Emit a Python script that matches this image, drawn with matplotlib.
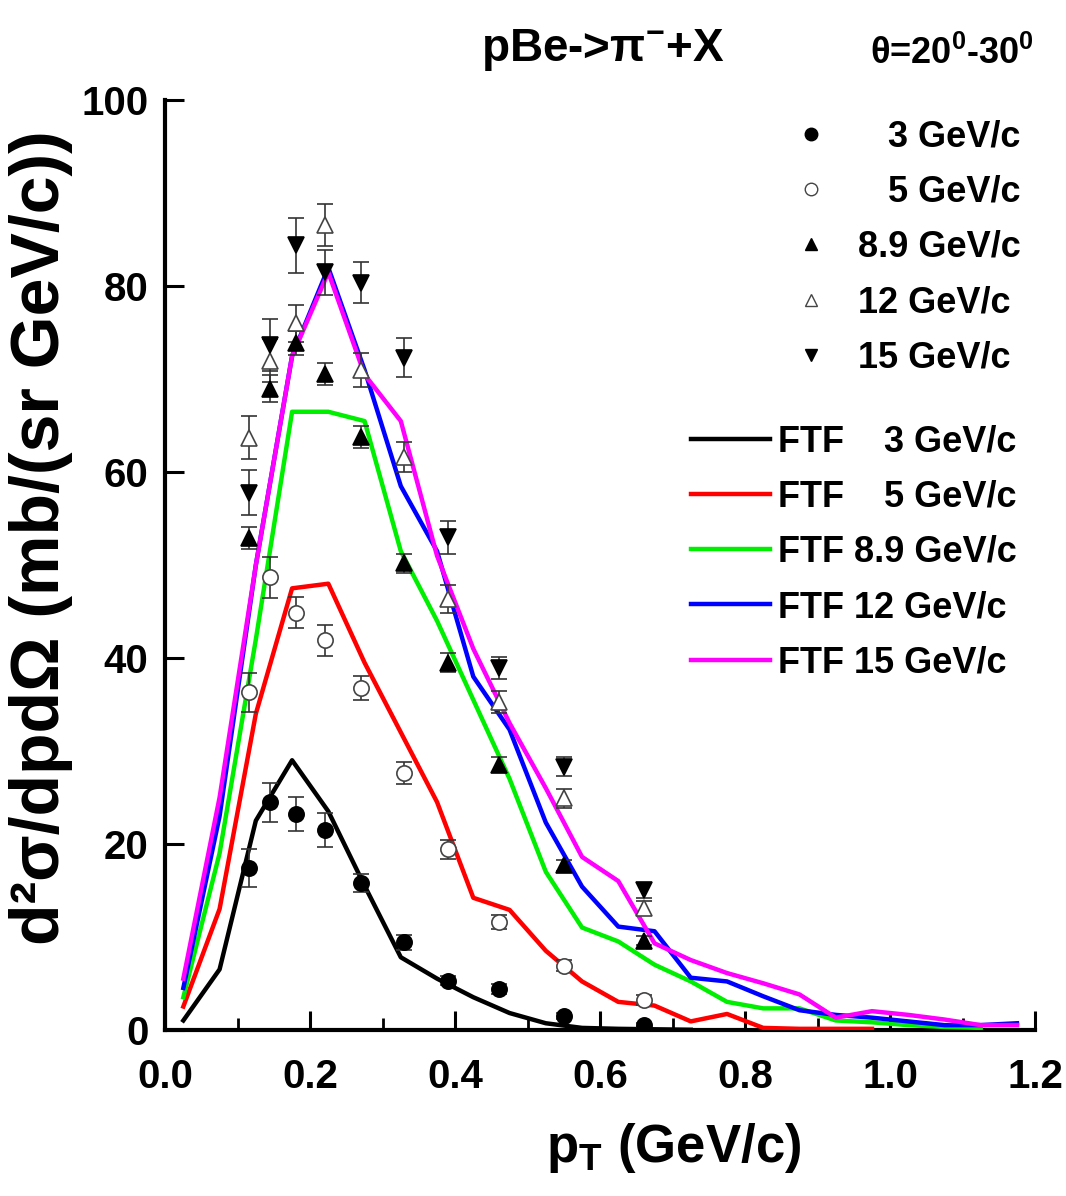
import numpy as np
import matplotlib
matplotlib.use('Agg')
from matplotlib import pyplot as plt
from matplotlib.lines import Line2D
from matplotlib.ticker import MultipleLocator, FormatStrFormatter

plt.rcParams['font.family'] = ['Liberation Sans', 'DejaVu Sans']
plt.rcParams['font.weight'] = 'bold'
plt.rcParams['axes.labelweight'] = 'bold'
plt.rcParams['mathtext.fontset'] = 'custom'
plt.rcParams['mathtext.rm'] = 'Liberation Sans:bold'
plt.rcParams['mathtext.it'] = 'Liberation Sans:bold'
plt.rcParams['mathtext.bf'] = 'Liberation Sans:bold'

# ---- data points (HARP, p + Be -> pi- + X, 20-30 deg) ----
pt_data = [0.115, 0.145, 0.18, 0.22, 0.27, 0.33, 0.39, 0.46, 0.55, 0.66]

d3 = [17.4, 24.5, 23.2, 21.5, 15.8, 9.4, 5.3, 4.4, 1.5, 0.5]
e3 = [2.0, 2.1, 1.8, 1.8, 1.0, 0.8, 0.5, 0.5, 0.3, 0.2]

d5 = [36.3, 48.7, 44.9, 41.9, 36.8, 27.6, 19.4, 11.6, 6.9, 3.2]
e5 = [2.1, 2.2, 1.7, 1.7, 1.3, 1.2, 1.0, 0.8, 0.6, 0.5]

d89 = [52.9, 69.0, 73.9, 70.6, 63.8, 50.2, 39.5, 28.5, 17.7, 9.6]
e89 = [1.2, 1.5, 1.3, 1.2, 1.2, 1.0, 1.0, 0.8, 0.6, 0.5]

d12 = [63.7, 72.0, 76.0, 86.6, 71.0, 61.6, 46.4, 35.3, 24.9, 13.1]
e12 = [2.3, 2.3, 2.0, 2.3, 1.8, 1.6, 1.5, 1.2, 1.0, 0.8]

d15 = [57.8, 73.7, 84.4, 81.5, 80.4, 72.3, 53.0, 38.9, 28.3, 15.0]
e15 = [2.4, 2.8, 3.0, 2.4, 2.2, 2.1, 1.8, 1.2, 1.0, 0.8]

# ---- FTF model curves ----
pt_ftf = [0.025, 0.075, 0.125, 0.175, 0.225, 0.275, 0.325, 0.375, 0.425, 0.475,
          0.525, 0.575, 0.625, 0.675, 0.725, 0.775, 0.825, 0.875, 0.925, 0.975,
          1.025, 1.075, 1.125, 1.175]

f3 = [1.0, 6.5, 22.5, 29.0, 23.5, 15.5, 7.8, 5.5, 3.5, 1.8,
      0.7, 0.2, 0.1, 0.05, 0.0]
f5 = [2.5, 13.0, 34.0, 47.5, 48.0, 39.5, 32.0, 24.5, 14.2, 12.9,
      8.5, 5.2, 3.0, 2.6, 0.9, 1.7, 0.2, 0.1, 0.1, 0.1]
f89 = [3.5, 19.0, 42.0, 66.5, 66.5, 65.5, 51.5, 44.0, 35.5, 27.0,
       17.0, 11.0, 9.5, 7.0, 5.2, 3.0, 2.3, 2.3, 1.0, 0.8,
       0.5, 0.3, 0.2]
f12 = [4.5, 23.0, 50.0, 72.5, 82.0, 71.0, 58.5, 51.5, 38.0, 32.3,
       22.3, 15.4, 11.1, 10.6, 5.6, 5.2, 3.6, 2.1, 1.6, 1.3,
       0.9, 0.5, 0.5, 0.7]
f15 = [5.5, 25.0, 50.0, 72.5, 81.5, 70.5, 65.5, 51.0, 41.0, 33.0,
       26.0, 18.6, 16.0, 9.3, 7.5, 6.1, 5.0, 3.8, 1.3, 2.0,
       1.6, 1.1, 0.5, 0.5]

fig = plt.figure(figsize=(10.66, 11.96), dpi=100)
ax = fig.add_axes([0.155, 0.139, 0.816, 0.777])

# model lines
ftf = [(f3, 'black', 'FTF    3 GeV/c'), (f5, 'red', 'FTF    5 GeV/c'),
       (f89, '#00ee00', 'FTF 8.9 GeV/c'), (f12, 'blue', 'FTF 12 GeV/c'),
       (f15, 'magenta', 'FTF 15 GeV/c')]
line_handles = []
for vals, col, lab in ftf:
    ax.plot(pt_ftf[:len(vals)], vals, color=col, lw=3.2, zorder=3)
    line_handles.append(Line2D([], [], color=col, lw=3.2, label=lab))

# data
sets = [(d3, e3, 'o', 'black', '   3 GeV/c'),
        (d5, e5, 'o', 'white', '   5 GeV/c'),
        (d89, e89, '^', 'black', '8.9 GeV/c'),
        (d12, e12, '^', 'white', '12 GeV/c'),
        (d15, e15, 'v', 'black', '15 GeV/c')]
mark_handles = []
for vals, err, mk, fc, lab in sets:
    ec = 'black' if fc == 'black' else '#444444'
    ax.errorbar(pt_data, vals, yerr=err, fmt=mk, ms=11, mfc=fc, mec=ec, mew=1.2,
                ecolor='#333333', elinewidth=1.2, capsize=6, capthick=1.2, zorder=4)
    mark_handles.append(Line2D([], [], ls='none', marker=mk, ms=9, mfc=fc,
                               mec=ec, mew=1.0, label=lab))

ax.set_xlim(0, 1.2)
ax.set_ylim(0, 100)
ax.xaxis.set_major_locator(MultipleLocator(0.2))
ax.xaxis.set_minor_locator(MultipleLocator(0.1))
ax.yaxis.set_major_locator(MultipleLocator(20))
ax.xaxis.set_major_formatter(FormatStrFormatter('%.1f'))
ax.spines['top'].set_visible(False)
ax.spines['right'].set_visible(False)
ax.spines['left'].set_linewidth(3)
ax.spines['bottom'].set_linewidth(3)
ax.tick_params(axis='both', which='major', direction='in', length=14, width=2.2,
               labelsize=29)
ax.tick_params(axis='x', which='major', pad=20)
ax.tick_params(axis='y', which='major', pad=12)
ax.tick_params(axis='x', which='minor', direction='in', length=9, width=2)

ax.set_xlabel('p$_T$ (GeV/c)', fontsize=38, labelpad=18)
ax.xaxis.label.set_x(0.585)
ax.set_ylabel('d²σ/dpdΩ (mb/(sr GeV/c))', fontsize=49, labelpad=6)
ax.yaxis.label.set_y(0.53)

fig.text(0.565, 0.958, r'pBe->π$^{-}$+X', fontsize=33, ha='center', va='center')
fig.text(0.893, 0.955, r'θ=20$^0$-30$^0$', fontsize=26, ha='center', va='center')

leg1 = ax.legend(handles=mark_handles, loc='upper right', bbox_to_anchor=(1.0, 0.995),
                 frameon=False, fontsize=26, handlelength=0.8, handletextpad=0.9,
                 labelspacing=0.56, borderaxespad=0)
ax.add_artist(leg1)
ax.legend(handles=line_handles, loc='upper right', bbox_to_anchor=(0.995, 0.667),
          frameon=False, fontsize=26, handlelength=2.2, handletextpad=0.2,
          labelspacing=0.56, borderaxespad=0)

fig.savefig('out.png', dpi=100)
